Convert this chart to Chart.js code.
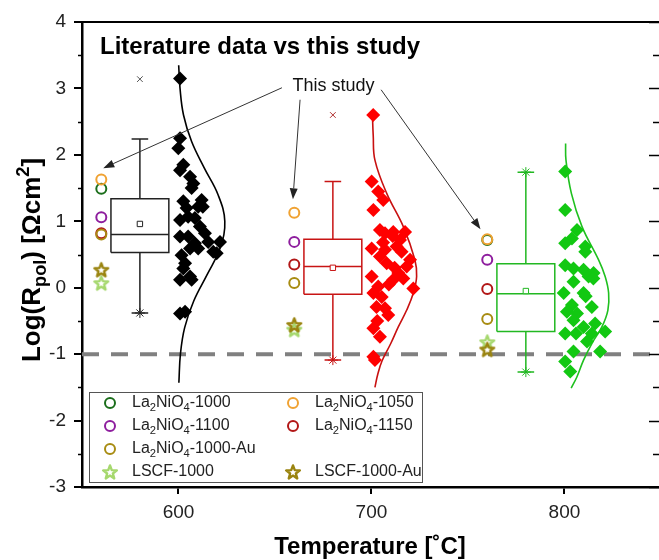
<!DOCTYPE html>
<html>
<head>
<meta charset="utf-8">
<script src="https://cdn.jsdelivr.net/npm/chart.js@4.4.0/dist/chart.umd.min.js"></script>
<style>
  html, body { margin: 0; padding: 0; background: #fff; overflow: hidden; }
  #wrap { width: 659px; height: 560px; }
</style>
</head>
<body>
<div id="wrap"><canvas id="chart"></canvas></div>
<script>
const FONT = "'Liberation Sans', Arial, sans-serif";

// temperatures and where each group sits on the x axis
const temps = [600, 700, 800];
const boxCenter = [580, 680, 780];
const litTemp = [560, 660, 760];

// box statistics per temperature (log Rpol)
const boxQ1 = [0.53, -0.10, -0.66];
const boxMedian = [0.80, 0.32, -0.09];
const boxQ3 = [1.34, 0.73, 0.36];
const boxMean = [0.96, 0.30, -0.05];
const whiskerLow = [-0.38, -1.09, -1.27];
const whiskerHigh = [2.24, 1.60, 1.74];
const outlier = [3.14, 2.60, null];

// literature data points (jittered x, log Rpol)
const study600X = [600.8, 600.8, 599.9, 602.5, 600.8, 606, 607.7, 606.8, 602.5, 612, 610.2, 604.2, 612.6, 605, 600.8, 608.5, 611.1, 613.7, 600.8, 605, 608.5, 615.4, 621.5, 606, 610.2, 618, 619.8, 601.6, 603.4, 602.5, 606, 600.8, 606.8, 600.8, 603.4];
const study600Y = [3.15, 2.25, 2.10, 1.85, 1.77, 1.67, 1.57, 1.50, 1.30, 1.32, 1.22, 1.20, 1.22, 1.07, 1.02, 1.05, 0.92, 0.82, 0.77, 0.77, 0.67, 0.69, 0.69, 0.59, 0.59, 0.54, 0.52, 0.49, 0.37, 0.29, 0.17, 0.12, 0.12, -0.39, -0.36];
const study700X = [700.9, 700.1, 703.5, 706.1, 701, 704.4, 711.3, 717.4, 714.8, 707, 711, 700.1, 707, 713, 715.6, 704.4, 720, 707.9, 718.3, 700.1, 713.9, 711.3, 716.5, 721.7, 703.5, 701, 705.3, 702.6, 707, 708.7, 701, 704.4, 701, 701.8, 706, 712, 709, 703];
const study700Y = [2.60, 1.60, 1.45, 1.32, 1.17, 0.87, 0.84, 0.84, 0.72, 0.82, 0.78, 0.59, 0.57, 0.62, 0.54, 0.47, 0.42, 0.37, 0.32, 0.17, 0.22, 0.12, 0.14, -0.01, 0.02, -0.08, -0.14, -0.29, -0.31, -0.41, -0.61, -0.74, -1.04, -1.09, 0.68, 0.30, 0.05, -0.50];
const study800X = [800.4, 800.4, 806.5, 803.9, 800.4, 810.8, 810.8, 800.4, 804.7, 809.9, 815.1, 812.5, 815, 804.7, 799.6, 809.9, 811, 814.2, 803.9, 801.3, 806.5, 804.7, 815.9, 809.9, 821.1, 800.4, 806, 814.2, 811.7, 804.7, 818.5, 800.4, 803];
const study800Y = [1.75, 1.17, 0.87, 0.74, 0.67, 0.62, 0.54, 0.34, 0.29, 0.27, 0.22, 0.17, 0.14, 0.09, -0.08, -0.08, -0.13, -0.29, -0.26, -0.36, -0.39, -0.49, -0.54, -0.59, -0.66, -0.69, -0.69, -0.69, -0.81, -0.96, -0.96, -1.11, -1.26];

// fitted distribution curves
const curve600X = [600.1, 600.8, 602.6, 606.8, 613.4, 620.5, 624, 621.6, 614.9, 607.9, 603.2, 601.0, 600.2];
const curve600Y = [3.35, 3.0, 2.6, 2.2, 1.8, 1.4, 1.0, 0.6, 0.2, -0.2, -0.6, -1.0, -1.43];
const curve700X = [700.5, 700.9, 701.8, 707.9, 716.5, 722.5, 723.4, 721.7, 718.2, 713.9, 710.0, 705.5, 703.3, 701.8];
const curve700Y = [2.6, 2.3, 1.92, 1.42, 0.92, 0.42, 0.17, -0.08, -0.34, -0.59, -0.84, -1.1, -1.3, -1.5];
const curve800X = [800.6, 800.8, 803.6, 809.1, 817.7, 821.1, 822.9, 822.5, 819.4, 814.2, 809.9, 806.5, 803.5];
const curve800Y = [2.17, 1.92, 1.42, 0.92, 0.42, 0.17, -0.08, -0.34, -0.59, -0.84, -1.09, -1.34, -1.51];

// this study
const lit1000 = [1.49, null, 0.72];
const lit1050 = [1.63, 1.13, 0.73];
const lit1100 = [1.06, 0.69, 0.42];
const lit1150 = [0.82, 0.35, -0.02];
const lit1000Au = [0.80, 0.07, -0.47];
const litLSCF = [0.07, -0.63, -0.82];
const litLSCFAu = [0.27, -0.56, -0.93];

const refLine = -1;

const groupColor = ['#000000', '#ff0000', '#12c812'];
const boxColor = ['#222222', '#c81414', '#22b822'];
const curveColor = ['#000000', '#c81010', '#1fc01f'];

const pts = (xs, ys) => xs.map((x, i) => ({x: x, y: ys[i]})).filter(p => p.y !== null);

function starImage(color) {
  const c = document.createElement('canvas');
  c.width = 18; c.height = 18;
  const g = c.getContext('2d');
  g.beginPath();
  for (let k = 0; k < 10; k++) {
    const r = k % 2 ? 3.0 : 7.2;
    const a = -Math.PI / 2 + k * Math.PI / 5;
    g.lineTo(9 + r * Math.cos(a), 9.6 + r * Math.sin(a));
  }
  g.closePath();
  g.lineJoin = 'round';
  g.lineWidth = 2.4;
  g.strokeStyle = color;
  g.stroke();
  return c;
}

const series = [
  {name: 'La_2NiO_4-1000-Au', vals: lit1000Au, color: '#a88c12', star: false},
  {name: 'La_2NiO_4-1050', vals: lit1050, color: '#f0a232', star: false},
  {name: 'La_2NiO_4-1000', vals: lit1000, color: '#1b6e1b', star: false},
  {name: 'La_2NiO_4-1100', vals: lit1100, color: '#8e1e9e', star: false},
  {name: 'La_2NiO_4-1150', vals: lit1150, color: '#b21717', star: false},
  {name: 'LSCF-1000-Au', vals: litLSCFAu, color: '#9a8410', star: true},
  {name: 'LSCF-1000', vals: litLSCF, color: '#a6d86e', star: true}
];
series.forEach(s => { s.img = s.star ? starImage(s.color) : null; });
const byName = n => series.find(s => s.name === n);

const datasets = [];
series.forEach(s => {
  datasets.push({
    data: pts(litTemp, s.vals),
    pointStyle: s.star ? s.img : 'circle',
    pointRadius: 5,
    borderColor: s.color,
    backgroundColor: 'rgba(0,0,0,0)',
    borderWidth: 2
  });
});

[[study600X, study600Y], [study700X, study700Y], [study800X, study800Y]].forEach((d, i) => {
  datasets.push({
    data: pts(d[0], d[1]),
    pointStyle: 'rectRot',
    pointRadius: 7,
    backgroundColor: groupColor[i],
    borderColor: groupColor[i],
    borderWidth: 0
  });
});

temps.forEach((t, i) => {
  const c = boxCenter[i];
  datasets.push({
    data: [{x: c, y: boxMean[i]}],
    pointStyle: 'rect', pointRadius: 3.8, borderWidth: 1,
    borderColor: boxColor[i], backgroundColor: '#fff'
  });
  datasets.push({
    data: outlier[i] === null ? [] : [{x: c, y: outlier[i]}],
    pointStyle: 'crossRot', pointRadius: 4, borderWidth: 1,
    borderColor: i === 0 ? '#555' : '#b03030'
  });
  const ends = [{x: c, y: whiskerLow[i]}];
  if (i === 2) ends.push({x: c, y: whiskerHigh[i]});
  datasets.push({
    data: ends,
    pointStyle: 'star', pointRadius: 5, borderWidth: 1,
    borderColor: boxColor[i]
  });
});

temps.forEach((t, i) => {
  const c = boxCenter[i], w = 15, cap = 4.3, gap = {x: c, y: null};
  datasets.push({
    data: [
      {x: c - w, y: boxQ1[i]}, {x: c + w, y: boxQ1[i]}, {x: c + w, y: boxQ3[i]}, {x: c - w, y: boxQ3[i]}, {x: c - w, y: boxQ1[i]}, gap,
      {x: c - w, y: boxMedian[i]}, {x: c + w, y: boxMedian[i]}, gap,
      {x: c, y: boxQ3[i]}, {x: c, y: whiskerHigh[i]}, gap,
      {x: c - cap, y: whiskerHigh[i]}, {x: c + cap, y: whiskerHigh[i]}, gap,
      {x: c, y: boxQ1[i]}, {x: c, y: whiskerLow[i]}, gap,
      {x: c - cap, y: whiskerLow[i]}, {x: c + cap, y: whiskerLow[i]}
    ],
    showLine: true, spanGaps: false, pointRadius: 0,
    borderColor: boxColor[i], borderWidth: 1.5
  });
});

[[curve600X, curve600Y], [curve700X, curve700Y], [curve800X, curve800Y]].forEach((d, i) => {
  datasets.push({
    data: pts(d[0], d[1]),
    showLine: true, tension: 0.4, pointRadius: 0,
    borderColor: curveColor[i], borderWidth: 1.6
  });
});

datasets.push({
  data: [{x: 550, y: refLine}, {x: 849, y: refLine}],
  showLine: true, pointRadius: 0,
  borderColor: '#808080', borderWidth: 4, borderDash: [17, 12]
});

function parseRich(s) {
  const parts = [];
  const re = /([_^])(\{([^}]*)\}|(.))/g;
  let last = 0, m;
  while ((m = re.exec(s))) {
    if (m.index > last) parts.push({t: s.slice(last, m.index), k: 0});
    parts.push({t: m[3] !== undefined ? m[3] : m[4], k: m[1] === '_' ? 1 : -1});
    last = re.lastIndex;
  }
  if (last < s.length) parts.push({t: s.slice(last), k: 0});
  return parts;
}

function drawRich(ctx, s, x, y, size, weight, align) {
  const parts = parseRich(s);
  const fontOf = p => weight + ' ' + (p.k ? size * 0.7 : size) + 'px ' + FONT;
  let w = 0;
  parts.forEach(p => { ctx.font = fontOf(p); p.w = ctx.measureText(p.t).width; w += p.w; });
  let cx = align === 'center' ? x - w / 2 : (align === 'right' ? x - w : x);
  ctx.textAlign = 'left';
  ctx.textBaseline = 'middle';
  parts.forEach(p => {
    ctx.font = fontOf(p);
    const dy = p.k === 1 ? size * 0.3 : (p.k === -1 ? -size * 0.35 : 0);
    ctx.fillText(p.t, cx, y + dy);
    cx += p.w;
  });
}

function arrow(ctx, x1, y1, x2, y2) {
  const a = Math.atan2(y2 - y1, x2 - x1), L = 11, H = 4;
  ctx.beginPath();
  ctx.moveTo(x1, y1);
  ctx.lineTo(x2 - L * Math.cos(a), y2 - L * Math.sin(a));
  ctx.stroke();
  ctx.beginPath();
  ctx.moveTo(x2, y2);
  ctx.lineTo(x2 - L * Math.cos(a) + H * Math.sin(a), y2 - L * Math.sin(a) - H * Math.cos(a));
  ctx.lineTo(x2 - L * Math.cos(a) - H * Math.sin(a), y2 - L * Math.sin(a) + H * Math.cos(a));
  ctx.closePath();
  ctx.fill();
}

// annotation: label and arrows, in data units
const note = {text: 'This study', at: [680.3, 3.04],
  arrows: [[[653.6, 3.01], [561, 1.80]], [[663, 2.83], [659.3, 1.33]], [[705, 2.98], [756.5, 0.88]]]};

const legendCols = [
  ['La_2NiO_4-1000', 'La_2NiO_4-1100', 'La_2NiO_4-1000-Au', 'LSCF-1000'],
  ['La_2NiO_4-1050', 'La_2NiO_4-1150', null, 'LSCF-1000-Au']
];

const decor = {
  id: 'decor',
  afterDraw(chart) {
    const ctx = chart.ctx, ca = chart.chartArea;
    const xs = chart.scales.x, ys = chart.scales.y;
    ctx.save();
    ctx.strokeStyle = '#000';
    // top frame (right border falls just outside the picture)
    ctx.lineWidth = 2;
    ctx.beginPath(); ctx.moveTo(ca.left, ca.top); ctx.lineTo(chart.width, ca.top); ctx.stroke();
    // minor ticks left, all ticks right
    ctx.lineWidth = 1.5;
    for (let v = -3; v <= 4.001; v += 0.5) {
      const py = Math.round(ys.getPixelForValue(v)) + 0.5;
      const major = Math.abs(v - Math.round(v)) < 1e-6;
      if (!major) {
        ctx.beginPath(); ctx.moveTo(ca.left, py); ctx.lineTo(ca.left - 4, py); ctx.stroke();
      }
      ctx.beginPath(); ctx.moveTo(chart.width, py); ctx.lineTo(chart.width - (major ? 10 : 6), py); ctx.stroke();
    }
    // title
    ctx.fillStyle = '#000';
    drawRich(ctx, 'Literature data vs this study', ca.left + 18, ca.top + 25, 24, 'bold', 'left');
    // annotation
    ctx.fillStyle = '#111';
    drawRich(ctx, note.text, xs.getPixelForValue(note.at[0]), ys.getPixelForValue(note.at[1]), 18, 'normal', 'center');
    ctx.strokeStyle = '#333'; ctx.fillStyle = '#222'; ctx.lineWidth = 1;
    note.arrows.forEach(a => arrow(ctx,
      xs.getPixelForValue(a[0][0]), ys.getPixelForValue(a[0][1]),
      xs.getPixelForValue(a[1][0]), ys.getPixelForValue(a[1][1])));
    // legend
    const lx = ca.left + 7, ly = ca.bottom - 95, lw = 333, lh = 90;
    ctx.fillStyle = '#fff';
    ctx.fillRect(lx, ly, lw, lh);
    ctx.strokeStyle = '#555'; ctx.lineWidth = 1;
    ctx.strokeRect(lx + 0.5, ly + 0.5, lw, lh);
    legendCols.forEach((col, ci) => {
      col.forEach((name, ri) => {
        if (!name) return;
        const s = byName(name);
        const mx = lx + 21 + ci * 183, my = ly + 11 + ri * 23;
        if (s.star) {
          ctx.drawImage(s.img, mx - 9, my - 9);
        } else {
          ctx.strokeStyle = s.color; ctx.lineWidth = 2;
          ctx.beginPath(); ctx.arc(mx, my, 5, 0, Math.PI * 2); ctx.stroke();
        }
        ctx.fillStyle = '#222';
        drawRich(ctx, name, mx + 22, my, 16, 'normal', 'left');
      });
    });
    // axis titles
    ctx.fillStyle = '#000';
    drawRich(ctx, 'Temperature [\u02DAC]', 370, 547, 24, 'bold', 'center');
    ctx.translate(33, ca.top + 238);
    ctx.rotate(-Math.PI / 2);
    drawRich(ctx, 'Log(R_{pol}) [\u03A9cm^2]', 0, 0, 26, 'bold', 'center');
    ctx.restore();
  }
};

new Chart(document.getElementById('chart'), {
  type: 'scatter',
  data: {datasets: datasets},
  plugins: [decor],
  options: {
    responsive: true,
    maintainAspectRatio: false,
    animation: false,
    events: [],
    layout: {autoPadding: false, padding: {top: 22, right: 0, left: 0, bottom: 0}},
    plugins: {legend: {display: false}, tooltip: {enabled: false}},
    scales: {
      x: {
        type: 'linear', min: 550, max: 849,
        afterBuildTicks: s => { s.ticks = temps.map(v => ({value: v})); },
        afterFit: s => { s.height = 73; s.paddingLeft = 0; s.paddingRight = 0; },
        grid: {drawOnChartArea: false, color: '#000', lineWidth: 2, tickLength: 7},
        border: {display: true, color: '#000', width: 2.5},
        ticks: {color: '#222', padding: 7, maxRotation: 0, font: {family: FONT, size: 19}}
      },
      y: {
        type: 'linear', min: -3, max: 4,
        afterFit: s => { s.width = 82; },
        grid: {drawOnChartArea: false, color: '#000', lineWidth: 2, tickLength: 8},
        border: {display: true, color: '#000', width: 2.5},
        ticks: {stepSize: 1, color: '#222', padding: 8, font: {family: FONT, size: 19}}
      }
    }
  }
});
</script>
</body>
</html>
